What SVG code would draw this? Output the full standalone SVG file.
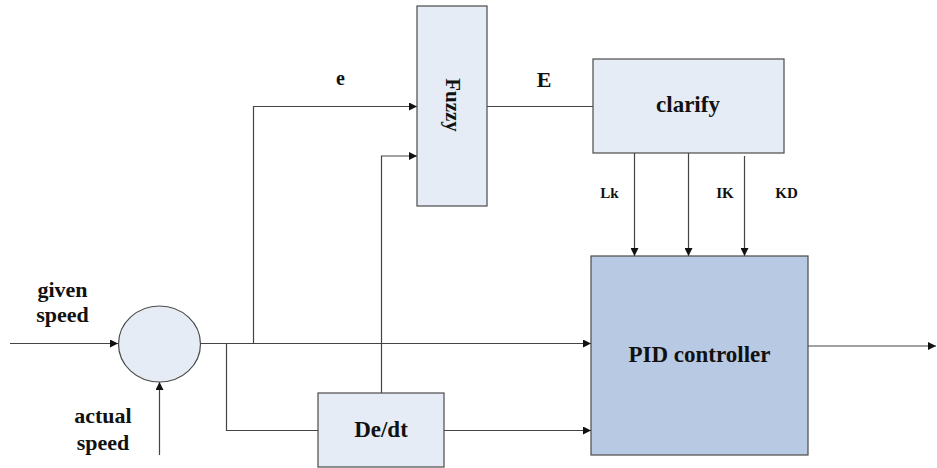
<svg xmlns="http://www.w3.org/2000/svg" width="937" height="468" viewBox="0 0 937 468">
<style>
.blk{fill:#e5ecf6;stroke:#4a4a4a;stroke-width:1.2}
.pid{fill:#b8cae3;stroke:#4a4a4a;stroke-width:1.2}
.ln{fill:none;stroke:#444;stroke-width:1.2}
.t{font-family:"Liberation Serif","Times New Roman",serif;font-weight:bold;fill:#111;text-anchor:middle}
</style>
<defs>
<marker id="ah" viewBox="0 0 10 10" refX="10" refY="5" markerWidth="8" markerHeight="8" markerUnits="userSpaceOnUse" orient="auto">
<path d="M0,0 L10,5 L0,10 z" fill="#111"/>
</marker>
</defs>
<rect width="937" height="468" fill="#fff"/>
<g id="connectors">
<path class="ln" d="M10,343.5 H118" marker-end="url(#ah)"/>
<path class="ln" d="M159.5,455 V382" marker-end="url(#ah)"/>
<path class="ln" d="M200.5,343.5 H591" marker-end="url(#ah)"/>
<path class="ln" d="M253.5,343.5 V106.5 H417" marker-end="url(#ah)"/>
<path class="ln" d="M226.5,343.5 V430.5 H318"/>
<path class="ln" d="M381.5,393 V156 H417" marker-end="url(#ah)"/>
<path class="ln" d="M444,430.5 H591" marker-end="url(#ah)"/>
<path class="ln" d="M487,106.5 H593"/>
<path class="ln" d="M634.5,153 V256" marker-end="url(#ah)"/>
<path class="ln" d="M688.5,153 V256" marker-end="url(#ah)"/>
<path class="ln" d="M744.5,156 V256" marker-end="url(#ah)"/>
<path class="ln" d="M808,346 H936" marker-end="url(#ah)"/>
</g>
<g id="sum">
<ellipse class="blk" cx="159.5" cy="344" rx="41" ry="38"/>
</g>
<g id="fuzzy">
<rect class="blk" x="417" y="6" width="70" height="200"/>
<text class="t" font-size="21" transform="translate(446,105) rotate(90)">Fuzzy</text>
</g>
<g id="clarify">
<rect class="blk" x="593" y="59" width="191" height="94"/>
<text class="t" font-size="23" x="688" y="112">clarify</text>
</g>
<g id="pid">
<rect class="pid" x="591" y="256" width="217" height="199"/>
<text class="t" font-size="23" x="699.5" y="362">PID controller</text>
</g>
<g id="dedt">
<rect class="blk" x="318" y="393" width="126" height="74"/>
<text class="t" font-size="23" x="381" y="437">De/dt</text>
</g>
<g id="labels">
<text class="t" font-size="22" x="62.5" y="297">given</text>
<text class="t" font-size="22" x="62.5" y="322">speed</text>
<text class="t" font-size="22" x="103" y="423">actual</text>
<text class="t" font-size="22" x="103" y="450">speed</text>
<text class="t" font-size="20" x="340.5" y="85">e</text>
<text class="t" font-size="22" x="544" y="87">E</text>
<text class="t" font-size="15" x="609.5" y="198">Lk</text>
<text class="t" font-size="15" x="725" y="198">IK</text>
<text class="t" font-size="15" x="786.5" y="198">KD</text>
</g>
</svg>
